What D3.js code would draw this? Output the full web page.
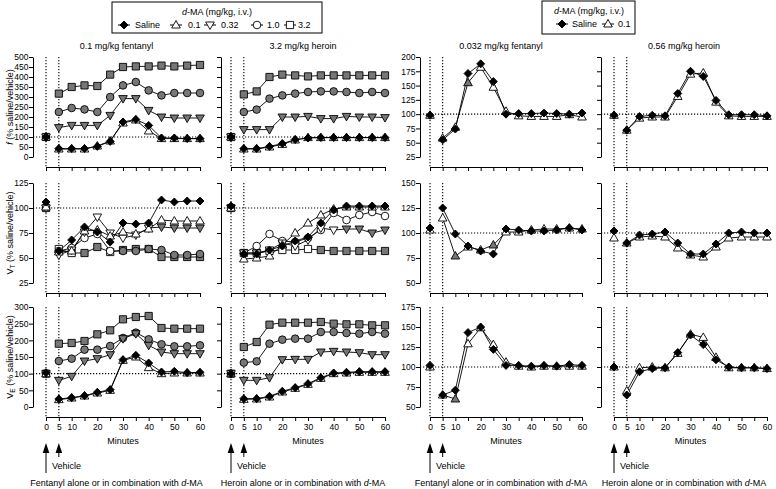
<!DOCTYPE html>
<html><head><meta charset="utf-8">
<script src="https://cdn.jsdelivr.net/npm/d3@7"></script>
<style>body{margin:0;background:#fff} text{font-family:Arial,"Liberation Sans",sans-serif;fill:#000}</style>
</head><body><svg id="c" width="776" height="489"></svg>
<script>
// ---------- DATA ----------
const times = [5,10,15,20,25,30,35,40,45,50,55,60];
const xTicks = [0,5,10,15,20,25,30,35,40,45,50,55,60];
const xTickLabels = ["0","5","10","","20","","30","","40","","50","","60"];
const doseLabels = ["Saline","0.1","0.32","1.0","3.2"];
const doseShapes = ["diamond","tri","tridown","circle","square"];
const panelTitles = ["0.1 mg/kg fentanyl","3.2 mg/kg heroin","0.032 mg/kg fentanyl","0.56 mg/kg heroin"];
const captions = ["Fentanyl alone or in combination with ","Heroin alone or in combination with ","Fentanyl alone or in combination with ","Heroin alone or in combination with "];

// f, 0.1 mg/kg fentanyl  (baseline order: saline,0.1,0.32,1.0,3.2)
const fF_base = [100,100,100,100,100];
const fF_sal  = [42,42,42,53,78,175,188,158,95,95,92,92];
const fF_d01  = [40,40,40,55,80,170,185,130,92,92,92,92];
const fF_d032 = [147,158,158,158,208,292,292,233,200,195,195,195];
const fF_d1   = [225,245,238,225,300,358,375,333,308,320,320,320];
const fF_d32  = [317,350,358,355,412,450,453,453,457,453,457,460];
const fF_sig  = [[0,0,0,0,0,0,0,0,0,0,0,0],[1,1,1,1,1,1,1,1,1,1,1,1],[1,1,1,1,1,1,1,1,1,1,1,1],[1,1,1,1,1,1,1,1,1,1,1,1]];
// f, 3.2 mg/kg heroin
const fH_base = [100,100,100,100,100];
const fH_sal  = [42,42,53,67,87,95,97,97,97,97,97,97];
const fH_d01  = [40,40,50,63,85,97,97,97,97,97,97,97];
const fH_d032 = [137,137,137,200,200,203,192,192,203,200,200,197];
const fH_d1   = [225,237,292,308,317,325,328,328,325,320,325,320];
const fH_d32  = [313,328,400,412,408,403,408,408,408,408,408,408];
const fH_sig  = [[0,0,0,0,0,0,0,0,0,0,0,0],[1,1,1,1,1,1,1,1,1,1,1,1],[1,1,1,1,1,1,1,1,1,1,1,1],[1,1,1,1,1,1,1,1,1,1,1,1]];
// VT, 0.1 mg/kg fentanyl
const vF_base = [106,101,100,100,100];
const vF_sal  = [57,68,81,76,66,85,84,85,108,106,107,107];
const vF_d01  = [56,57,77,78,72,76,74,79,88,87,87,87];
const vF_d032 = [53,58,76,91,75,70,73,80,81,80,80,80];
const vF_d1   = [57,60,70,74,57,57,57,59,58,53,53,54];
const vF_d32  = [59,55,55,61,56,58,59,59,51,51,51,51];
const vF_sig  = [[0,0,0,0,0,0,0,0,0,0,0,0],[0,0,0,0,0,0,0,0,1,1,1,1],[0,0,0,0,0,1,1,1,1,1,1,1],[0,0,1,1,0,1,1,1,1,1,1,1]];
// VT, 3.2 mg/kg heroin
const vH_base = [102,100,100,100,100];
const vH_sal  = [54,54,58,62,67,71,85,98,102,102,102,102];
const vH_d01  = [49,50,52,63,75,85,93,99,101,101,101,101];
const vH_d032 = [55,55,58,65,62,68,80,78,79,79,75,78];
const vH_d1   = [55,62,74,67,66,70,78,95,88,93,96,92];
const vH_d32  = [55,55,57,58,58,59,58,57,57,57,57,57];
const vH_sig  = [[0,0,0,0,0,0,0,0,0,0,0,0],[0,0,0,0,0,0,0,0,1,1,1,1],[0,0,0,0,0,0,0,0,0,0,0,0],[0,0,0,0,0,0,1,1,1,1,1,1]];
// VE, 0.1 mg/kg fentanyl
const eF_base = [103,100,100,100,100];
const eF_sal  = [24,28,34,44,52,142,155,132,105,107,103,104];
const eF_d01  = [22,27,33,42,50,140,150,118,100,102,102,102];
const eF_d032 = [80,92,138,145,157,205,220,185,165,160,160,160];
const eF_d1   = [138,145,172,172,183,207,223,203,188,182,182,185];
const eF_d32  = [190,192,198,218,230,263,270,273,237,235,235,235];
const eF_sig  = [[0,0,0,0,0,0,0,0,0,0,0,0],[1,1,1,1,1,1,1,1,1,1,1,1],[1,1,1,1,1,1,1,1,1,1,1,1],[1,1,1,1,1,1,1,1,1,1,1,1]];
// VE, 3.2 mg/kg heroin
const eH_base = [100,100,100,100,100];
const eH_sal  = [25,25,32,47,58,70,88,102,104,106,106,106];
const eH_d01  = [23,24,30,45,56,68,86,100,102,104,104,104];
const eH_d032 = [80,80,88,142,143,143,165,167,165,163,157,157];
const eH_d1   = [133,137,190,202,205,205,225,225,222,220,225,220];
const eH_d32  = [180,195,247,253,253,253,255,250,248,248,245,245];
const eH_sig  = [[0,0,0,0,0,0,0,0,0,0,0,0],[1,1,1,1,1,1,1,1,1,1,1,1],[1,1,1,1,1,1,1,1,1,1,1,1],[1,1,1,1,1,1,1,1,1,1,1,1]];
// right-hand panels (saline, 0.1)
const fF2_base = [98,98];
const fF2_sal  = [55,74,171,188,157,100,101,101,102,101,100,102];
const fF2_d01  = [58,77,155,182,147,105,97,96,96,96,99,95];
const fF2_sig  = [[0,0,1,0,0,0,0,0,0,0,0,0]];
const fH2_base = [98,98];
const fH2_sal  = [72,96,98,97,136,175,166,124,99,99,99,97];
const fH2_d01  = [72,93,95,95,131,170,172,121,97,96,96,96];
const fH2_sig  = [[0,0,0,0,0,0,0,0,0,0,0,0]];
const vF2_base = [105,103];
const vF2_sal  = [125,99,87,82,79,104,103,102,102,103,105,103];
const vF2_d01  = [115,77,86,83,88,101,101,103,104,104,105,104];
const vF2_sig  = [[0,1,0,0,1,0,0,0,0,0,0,0]];
const vH2_base = [102,95];
const vH2_sal  = [90,98,99,101,90,79,79,89,100,101,100,100];
const vH2_d01  = [90,96,97,96,85,78,76,86,95,96,96,96];
const vH2_sig  = [[0,0,0,0,0,0,0,0,0,0,0,0]];
const eF2_base = [102,100];
const eF2_sal  = [65,71,143,150,122,102,102,101,102,101,103,102];
const eF2_d01  = [65,60,129,149,128,106,101,100,101,101,101,101];
const eF2_sig  = [[0,1,0,0,0,0,0,0,0,0,0,0]];
const eH2_base = [100,100];
const eH2_sal  = [65,94,98,99,118,140,128,109,100,99,99,98];
const eH2_d01  = [70,99,100,99,117,141,137,112,99,99,99,98];
const eH2_sig  = [[0,0,0,0,0,0,0,0,0,0,0,0]];

const yDomains = [[[0,500],[25,200]],[[25,125],[50,150]],[[0,300],[50,175]]];
const yTicks = [[d3.range(0,501,50),d3.range(25,201,25)],[d3.range(25,126,25),d3.range(50,151,25)],[d3.range(0,301,50),d3.range(50,176,25)]];

// ---------- LAYOUT ----------
const cols = [{ax:33,x0:46,x1:200},{ax:221,x0:231,x1:385},{ax:420,x0:430,x1:582},{ax:601,x0:614,x1:767}];
const rows = [{top:57,bot:157,xa:167},{top:183,bot:283,xa:293},{top:307,bot:407,xa:417}];
const GRAY = "#777";
const FONT = 9, TFONT = 8.5;

const panels = [
  {r:0,c:0,base:fF_base,ser:[fF_sal,fF_d01,fF_d032,fF_d1,fF_d32],sig:fF_sig},
  {r:0,c:1,base:fH_base,ser:[fH_sal,fH_d01,fH_d032,fH_d1,fH_d32],sig:fH_sig},
  {r:0,c:2,base:fF2_base,ser:[fF2_sal,fF2_d01],sig:fF2_sig},
  {r:0,c:3,base:fH2_base,ser:[fH2_sal,fH2_d01],sig:fH2_sig},
  {r:1,c:0,base:vF_base,ser:[vF_sal,vF_d01,vF_d032,vF_d1,vF_d32],sig:vF_sig},
  {r:1,c:1,base:vH_base,ser:[vH_sal,vH_d01,vH_d032,vH_d1,vH_d32],sig:vH_sig},
  {r:1,c:2,base:vF2_base,ser:[vF2_sal,vF2_d01],sig:vF2_sig},
  {r:1,c:3,base:vH2_base,ser:[vH2_sal,vH2_d01],sig:vH2_sig},
  {r:2,c:0,base:eF_base,ser:[eF_sal,eF_d01,eF_d032,eF_d1,eF_d32],sig:eF_sig},
  {r:2,c:1,base:eH_base,ser:[eH_sal,eH_d01,eH_d032,eH_d1,eH_d32],sig:eH_sig},
  {r:2,c:2,base:eF2_base,ser:[eF2_sal,eF2_d01],sig:eF2_sig},
  {r:2,c:3,base:eH2_base,ser:[eH2_sal,eH2_d01],sig:eH2_sig}
];

const svg = d3.select("#c");

function shapePath(t){
  switch(t){
    case "diamond": return "M0,-4L4,0L0,4L-4,0Z";
    case "tri": return "M0,-4.5L4.3,3L-4.3,3Z";
    case "tridown": return "M0,4.5L4.3,-3L-4.3,-3Z";
    case "circle": return "M3.8,0A3.8,3.8,0,1,1,-3.8,0A3.8,3.8,0,1,1,3.8,0Z";
    case "square": return "M-3.6,-3.6H3.6V3.6H-3.6Z";
  }
}
function marker(g,shape,x,y,fill){
  g.append("path").attr("d",shapePath(shape)).attr("transform",`translate(${x},${y})`)
   .attr("fill",fill).attr("stroke","#000").attr("stroke-width",0.9);
}

panels.forEach(p=>{
  const col = cols[p.c], row = rows[p.r];
  const side = p.c<2?0:1;
  const x = d3.scaleLinear().domain([0,60]).range([col.x0,col.x1]);
  const y = d3.scaleLinear().domain(yDomains[p.r][side]).range([row.bot,row.top]);
  const g = svg.append("g");

  // y axis
  const ya = g.append("g").attr("transform",`translate(${col.ax},0)`)
    .call(d3.axisLeft(y).tickValues(yTicks[p.r][side]).tickSize(4).tickSizeOuter(0).tickPadding(0.5)
      .tickFormat(p.c%2===0 ? d3.format("d") : ()=>""));
  ya.selectAll("text").attr("font-size",TFONT).attr("font-family","Arial, Liberation Sans, sans-serif");
  ya.selectAll("path,line").attr("stroke","#000");
  // x axis
  const xa = g.append("g").attr("transform",`translate(0,${row.xa})`)
    .call(d3.axisBottom(x).tickValues(xTicks).tickSize(4).tickSizeOuter(0).tickPadding(2.5)
      .tickFormat((d,i)=> p.r===2 ? xTickLabels[i] : ""));
  xa.selectAll("text").attr("font-size",TFONT).attr("font-family","Arial, Liberation Sans, sans-serif");
  xa.selectAll("path,line").attr("stroke","#000");

  // dotted reference lines
  g.append("line").attr("x1",col.ax).attr("x2",col.x1).attr("y1",y(100)).attr("y2",y(100))
    .attr("stroke","#000").attr("stroke-width",1.1).attr("stroke-dasharray","1.2,1.8");
  [0,5].forEach(t=>{
    g.append("line").attr("x1",x(t)).attr("x2",x(t)).attr("y1",row.top).attr("y2",row.xa)
      .attr("stroke","#000").attr("stroke-width",1.1).attr("stroke-dasharray","1.2,1.8");
  });

  // series: draw highest dose first, saline last
  const order = d3.range(p.ser.length).reverse();
  const line = d3.line().x((d,i)=>x(times[i])).y(d=>y(d));
  order.forEach(k=>{
    const vals = p.ser[k];
    g.append("path").attr("d",line(vals)).attr("fill","none").attr("stroke","#000").attr("stroke-width",0.9);
  });
  order.forEach(k=>{
    const vals = p.ser[k];
    const shape = doseShapes[k];
    const baseFill = k===0 ? "#000" : "#fff";
    marker(g,shape,x(0),y(p.base[k]),baseFill);
    vals.forEach((v,i)=>{
      let fill = "#000";
      if(k>0) fill = p.sig[k-1][i] ? GRAY : "#fff";
      marker(g,shape,x(times[i]),y(v),fill);
    });
  });

  // panel title
  if(p.r===0){
    svg.append("text").attr("x",(col.ax+col.x1)/2).attr("y",49).attr("text-anchor","middle")
      .attr("font-size",FONT).text(panelTitles[p.c]);
  }
  // bottom annotations
  if(p.r===2){
    svg.append("text").attr("x",x(30)).attr("y",444).attr("text-anchor","middle").attr("font-size",FONT).text("Minutes");
    [[0,473],[5,457]].forEach(([t,yb])=>{
      svg.append("line").attr("x1",x(t)).attr("x2",x(t)).attr("y1",450).attr("y2",yb).attr("stroke","#000").attr("stroke-width",1);
      svg.append("path").attr("d",`M${x(t)},443L${x(t)+3.3},453L${x(t)-3.3},453Z`).attr("fill","#000");
    });
    svg.append("text").attr("x",x(0)+6).attr("y",469).attr("font-size",FONT).text("Vehicle");
    const cap = svg.append("text").attr("x",(col.ax+col.x1)/2).attr("y",486).attr("text-anchor","middle").attr("font-size",FONT);
    cap.append("tspan").text(captions[p.c]);
    cap.append("tspan").attr("font-style","italic").text("d");
    cap.append("tspan").text("-MA");
  }
});

// y-axis titles
const ylab = [
  {main:"f", italic:true, sub:"", rest:" (% saline/vehicle)"},
  {main:"V", italic:false, sub:"T", rest:" (% saline/vehicle)"},
  {main:"V", italic:false, sub:"E", rest:" (% saline/vehicle)"}
];
rows.forEach((row,r)=>{
  const cy = (row.top+row.bot)/2;
  const t = svg.append("text").attr("transform",`translate(12.5,${cy}) rotate(-90)`).attr("text-anchor","middle").attr("font-size",FONT);
  const L = ylab[r];
  t.append("tspan").attr("font-style",L.italic?"italic":"normal").text(L.main);
  if(L.sub){
    t.append("tspan").attr("font-size",6.5).attr("dy",2.5).text(L.sub);
    t.append("tspan").attr("dy",-2.5).text(L.rest);
  } else t.append("tspan").text(L.rest);
});

// legends
function legend(bx,by,bw,bh,titleX,items){
  svg.append("rect").attr("x",bx).attr("y",by).attr("width",bw).attr("height",bh)
    .attr("fill","#fff").attr("stroke","#000").attr("stroke-width",1);
  const t = svg.append("text").attr("x",titleX).attr("y",by+13).attr("text-anchor","middle").attr("font-size",FONT);
  t.append("tspan").attr("font-style","italic").text("d");
  t.append("tspan").text("-MA (mg/kg, i.v.)");
  items.forEach(it=>{
    const yy = by+23;
    svg.append("line").attr("x1",it.mx-6).attr("x2",it.mx+6).attr("y1",yy).attr("y2",yy).attr("stroke","#000").attr("stroke-width",1);
    const g = svg.append("g");
    marker(g,doseShapes[it.k],it.mx,yy,it.k===0?"#000":"#fff");
    svg.append("text").attr("x",it.tx).attr("y",yy+3.2).attr("font-size",FONT).text(doseLabels[it.k]);
  });
}
legend(112,2,210,31,217,[{k:0,mx:124,tx:135},{k:1,mx:176,tx:188},{k:2,mx:210,tx:221},{k:3,mx:257,tx:267},{k:4,mx:290,tx:298}]);
legend(542,1,93,33,589,[{k:0,mx:562,tx:572},{k:1,mx:608,tx:618}]);
</script>
</body></html>
